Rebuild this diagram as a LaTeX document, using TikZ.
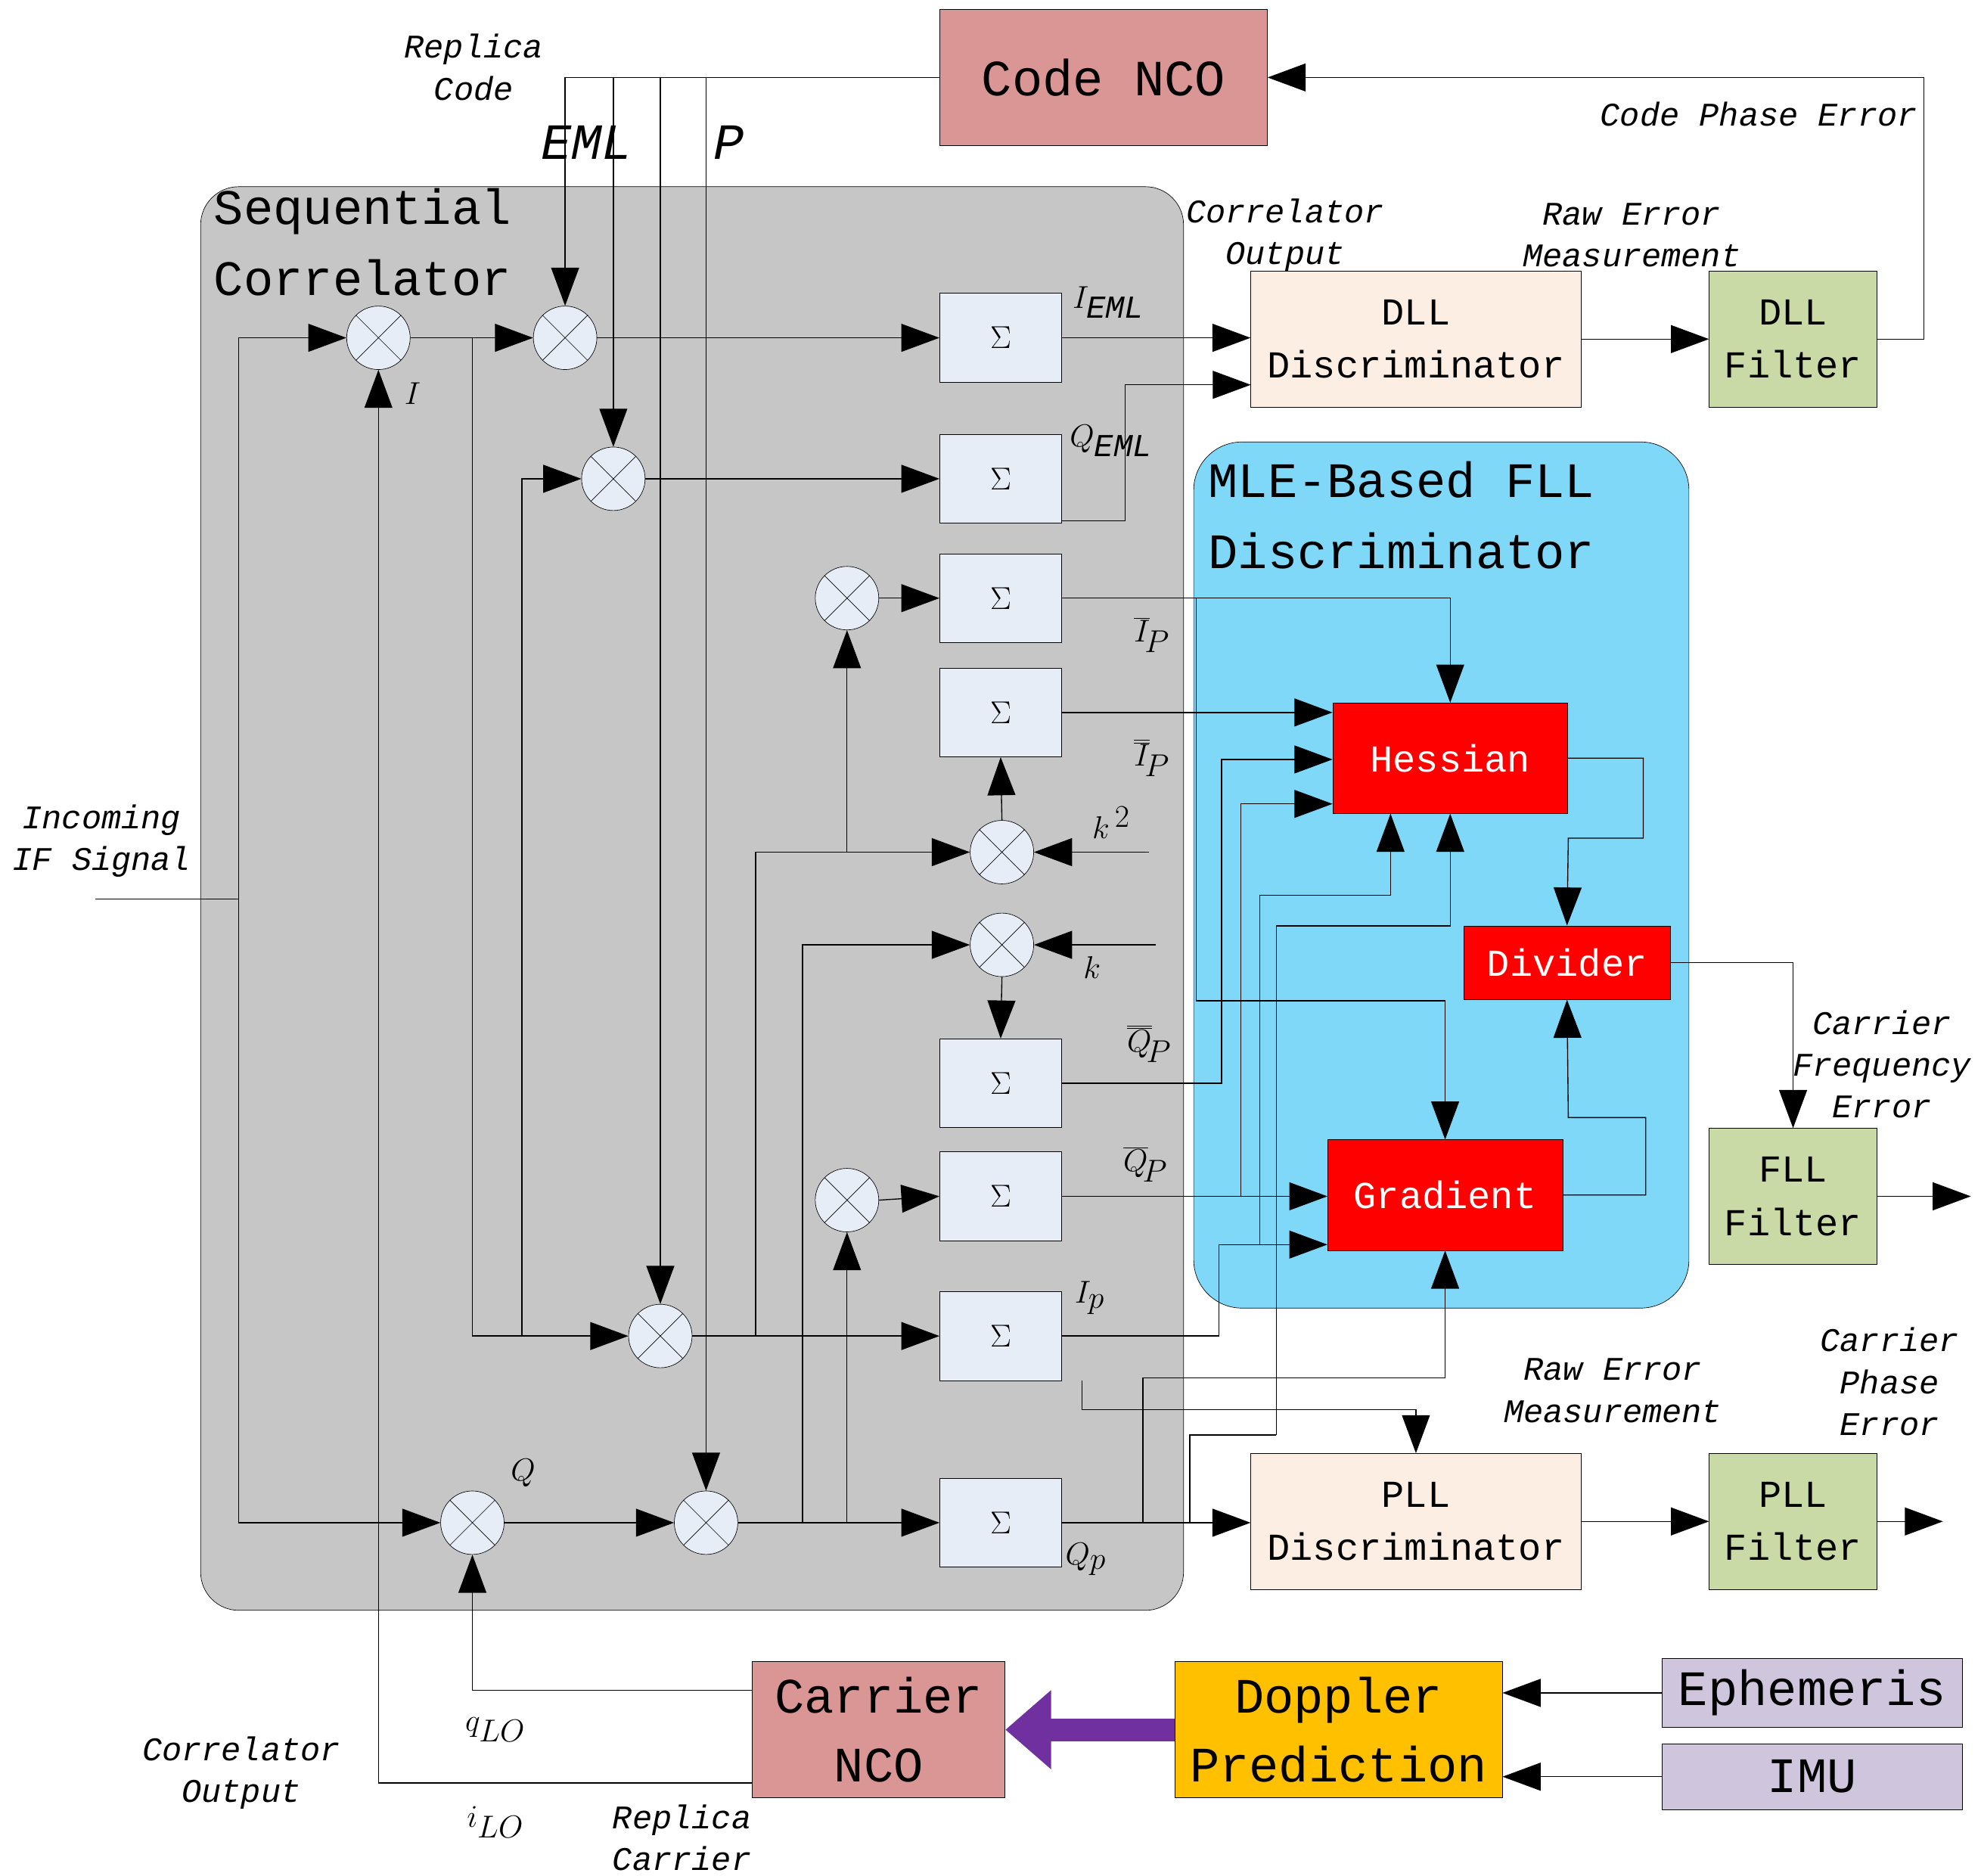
\documentclass[tikz,border=0pt]{standalone}
\usepackage{fontspec}
\setmainfont{Liberation Mono}
\usetikzlibrary{arrows.meta}
\definecolor{nco}{HTML}{D99694}
\definecolor{gray1}{HTML}{C6C6C6}
\definecolor{mle}{HTML}{80D8F8}
\definecolor{disc}{HTML}{FDEEE3}
\definecolor{filt}{HTML}{C9DAA6}
\definecolor{sumf}{HTML}{E6EDF7}
\definecolor{dop}{HTML}{FFC000}
\definecolor{eph}{HTML}{CFC5DD}
\definecolor{purp}{HTML}{7030A0}
\begin{document}
\begin{tikzpicture}[x=1pt,y=-1pt,
  arr/.style={-{Triangle[length=30pt,width=22pt]}},
  ln/.style={draw,line width=0.8pt},
  sum/.style={draw,fill=sumf,minimum width=96pt,minimum height=70pt,inner sep=0pt,font=\fontsize{44}{44}\selectfont},
  mix/.style={draw,circle,fill=sumf,minimum size=50pt,inner sep=0pt},
  box/.style={draw,inner sep=0pt,align=center},
  red/.style={box,fill=red,text=white,font=\fontsize{30}{34}\selectfont},
  lab/.style={font=\itshape\fontsize{26}{33}\selectfont,align=center},
  ml/.style={font=\fontsize{36}{36}\selectfont}]
\useasboundingbox (0,0) rectangle (1560,1477);
% containers
\draw[fill=gray1,rounded corners=30pt] (158,147) rectangle (932,1268);
\node[anchor=north west,align=left,font=\fontsize{39}{56}\selectfont] (sc) at (165,145) {Sequential\\Correlator};
\draw[fill=mle,rounded corners=38pt] (940,348) rectangle (1330,1030);
\node[anchor=north west,align=left,font=\fontsize{39}{56}\selectfont] (mt) at (948,360) {MLE-Based FLL\\Discriminator};
% boxes
\node[box,fill=nco,minimum width=258pt,minimum height=107pt,font=\fontsize{40}{44}\selectfont] (cnco) at (869,61) {Code NCO};
\node[box,fill=disc,minimum width=260pt,minimum height=107pt,font=\fontsize{30}{42}\selectfont] (dlld) at (1115,267) {DLL\\Discriminator};
\node[box,fill=filt,minimum width=132pt,minimum height=107pt,font=\fontsize{30}{42}\selectfont] (dllf) at (1412,267) {DLL\\Filter};
\node[red,minimum width=185pt,minimum height=87pt] (hes) at (1142,597) {Hessian};
\node[red,minimum width=163pt,minimum height=58pt] (div) at (1234,758) {Divider};
\node[red,minimum width=185pt,minimum height=87pt] (grad) at (1138,941) {Gradient};
\node[box,fill=filt,minimum width=132pt,minimum height=107pt,font=\fontsize{30}{42}\selectfont] (fllf) at (1412,942) {FLL\\Filter};
\node[box,fill=disc,minimum width=260pt,minimum height=107pt,font=\fontsize{30}{42}\selectfont] (plld) at (1115,1198) {PLL\\Discriminator};
\node[box,fill=filt,minimum width=132pt,minimum height=107pt,font=\fontsize{30}{42}\selectfont] (pllf) at (1412,1198) {PLL\\Filter};
\node[box,fill=nco,minimum width=199pt,minimum height=107pt,font=\fontsize{39}{54}\selectfont] (carn) at (692,1362) {Carrier\\NCO};
\node[box,fill=dop,minimum width=258pt,minimum height=107pt,font=\fontsize{39}{54}\selectfont] (dopp) at (1054,1362) {Doppler\\Prediction};
\node[box,fill=eph,minimum width=236pt,minimum height=54pt,font=\fontsize{39}{44}\selectfont] (ephm) at (1427,1333) {Ephemeris};
\node[box,fill=eph,minimum width=236pt,minimum height=52pt,font=\fontsize{39}{44}\selectfont] (imu) at (1427,1399) {IMU};
% sums
\foreach \n/\y in {1/266,2/377,3/471,4/561,5/853,6/942,7/1052,8/1199}
  \node[sum] (s\n) at (788,\y) {$\Sigma$};
% mixers
\foreach \n/\x/\y in {1/298/266,2/445/266,3/483/377,4/667/471,5/789/671,6/789/744,7/667/945,8/520/1052,9/372/1199,10/556/1199}{
  \node[mix] (m\n) at (\x,\y) {};
  \draw (m\n.45)--(m\n.225) (m\n.135)--(m\n.315);}
% labels
\node[lab] (lrc) at (373,53) {Replica\\Code};
\node[font=\itshape\fontsize{40}{40}\selectfont] (leml) at (462,112) {EML};
\node[font=\itshape\fontsize{40}{40}\selectfont] (lp) at (574,112) {P};
\node[lab] (lif) at (80,662) {Incoming\\IF Signal};
\node[lab] (lco1) at (1012,185) {Correlator\\Output};
\node[lab] (lrem1) at (1285,185) {Raw Error\\Measurement};
\node[lab] (lcpe) at (1385,90) {Code Phase Error};
\node[lab] (lcfe) at (1482,838) {Carrier\\Frequency\\Error};
\node[lab] (lrem2) at (1270,1095) {Raw Error\\Measurement};
\node[lab] (lcph) at (1488,1088) {Carrier\\Phase\\Error};
\node[lab] (lco2) at (190,1396) {Correlator\\Output};
\node[lab] (lrcar) at (537,1447) {Replica\\Carrier};
\node[ml] at (325,310) {$I$};
\node[ml] at (412,1160) {$Q$};
\node[ml] at (873,238) {$I_{\mathit{EML}}$};
\node[ml] at (875,347) {$Q_{\mathit{EML}}$};
\node[ml] at (907,500) {$\overline{I}_{\!P}$};
\node[ml] at (907,597) {$\overline{\overline{I}}_{\!P}$};
\node[ml] at (875,648) {$k^{\,2}$};
\node[ml] at (860,762) {$k$};
\node[ml] at (905,822) {$\overline{\overline{Q}}_{\!P}$};
\node[ml] at (902,917) {$\overline{Q}_{\!P}$};
\node[ml] at (858,1022) {$I_p$};
\node[ml] at (855,1228) {$Q_p$};
\node[ml] at (390,1362) {$q_{LO}$};
\node[ml] at (390,1435) {$i_{LO}$};
% IF input
\coordinate (ifin) at (75,708);
\draw[ln] (ifin) -- (188,708);
\draw[ln,arr] (188,708) |- (m1.west);
\draw[ln,arr] (188,708) |- (m9.west);
% I path
\draw[ln,arr] (m1.east) -- (m2.west);
\draw[ln,arr] (372,266) |- (m8.west);
\draw[ln,arr] (411,1052) |- (m3.west);
\draw[ln,arr] (m9.east) -- (m10.west);
% code NCO replicas
\draw[ln] (cnco.west) -- (445,61);
\draw[ln,arr] (445,61) -- (m2.north);
\draw[ln,arr] (483,61) -- (m3.north);
\draw[ln,arr] (520,61) -- (m8.north);
\draw[ln,arr] (556,61) -- (m10.north);
% mixers to sums
\draw[ln,arr] (m2.east) -- (s1.west);
\draw[ln,arr] (m3.east) -- (s2.west);
\draw[ln,arr] (m8.east) -- (s7.west);
\draw[ln,arr] (m10.east) -- (s8.west);
\draw[ln,arr] (m4.east) -- (s3.west);
\draw[ln,arr] (m7.east) -- (s6.west);
\draw[ln,arr] (595,1052) |- (m5.west);
\draw[ln,arr] (667,671) -- (m4.south);
\draw[ln,arr] (632,1199) |- (m6.west);
\draw[ln,arr] (667,1199) -- (m7.south);
\draw[ln,arr] (m5.north) -- (s4.south);
\draw[ln,arr] (m6.south) -- (s5.north);
\coordinate (k2) at (905,671); \coordinate (k1) at (910,744);
\draw[ln,arr] (k2) -- (m5.east);
\draw[ln,arr] (k1) -- (m6.east);
% carrier NCO
\draw[ln,arr] (carn.west|-0,1331) -| (m9.south);
\draw[ln,arr] (carn.west|-0,1404) -| (m1.south);
\draw[purp,line width=18pt,-{Triangle[length=36pt,width=60pt]}] (dopp.west) -- (carn.east);
\draw[ln,arr] (ephm.west) -- (dopp.east|-ephm.west);
\draw[ln,arr] (imu.west) -- (dopp.east|-imu.west);
% DLL
\draw[ln,arr] (s1.east) -- (dlld.west|-s1.east);
\draw[ln,arr] (s2.east|-0,410) -- (886,410) |- (985,303);
\draw[ln,arr] (dlld.east) -- (dllf.west);
\draw[ln,arr] (dllf.east) -- (1515,267) |- (cnco.east);
% FLL inputs
\draw[ln,arr] (s3.east) -| (hes.north);
\draw[ln,arr] (s4.east) -- (hes.west|-s4.east);
\draw[ln,arr] (s5.east) -- (962,853) |- (hes.west|-0,598);
\draw[ln,arr] (s6.east) -- (grad.west|-s6.east);
\draw[ln,arr] (977,942) |- (hes.west|-0,633);
\draw[ln,arr] (s7.east) -- (960,1052) |- (grad.west|-0,980);
\draw[ln,arr] (992,980) |- (1095,705) -- (hes.south-|1095,0);
\draw[ln,arr] (942,471) |- (1138,788) -- (grad.north);
\draw[ln,arr] (s8.east) -- (plld.west|-s8.east);
\draw[ln] (937,1199) |- (1005,1130);
\draw[ln,arr] (1005,1130) |- (1142,729) -- (hes.south);
\draw[ln,arr] (900,1199) |- (1138,1085) -- (grad.south);
\draw[ln,arr] (852,1087) |- (1115,1110) -- (plld.north);
% FLL internal
\draw[ln,arr] (hes.east) -- (1294,597) |- (1235,660) -- (div.north);
\draw[ln,arr] (grad.east) -- (1296,941) |- (1235,880) -- (div.south);
\draw[ln,arr] (div.east) -| (fllf.north);
\coordinate (fout) at (1552,942); \coordinate (pout) at (1530,1198);
\draw[ln,arr] (fllf.east) -- (fout);
\draw[ln,arr] (plld.east) -- (pllf.west);
\draw[ln,arr] (pllf.east) -- (pout);
\end{tikzpicture}
\end{document}
